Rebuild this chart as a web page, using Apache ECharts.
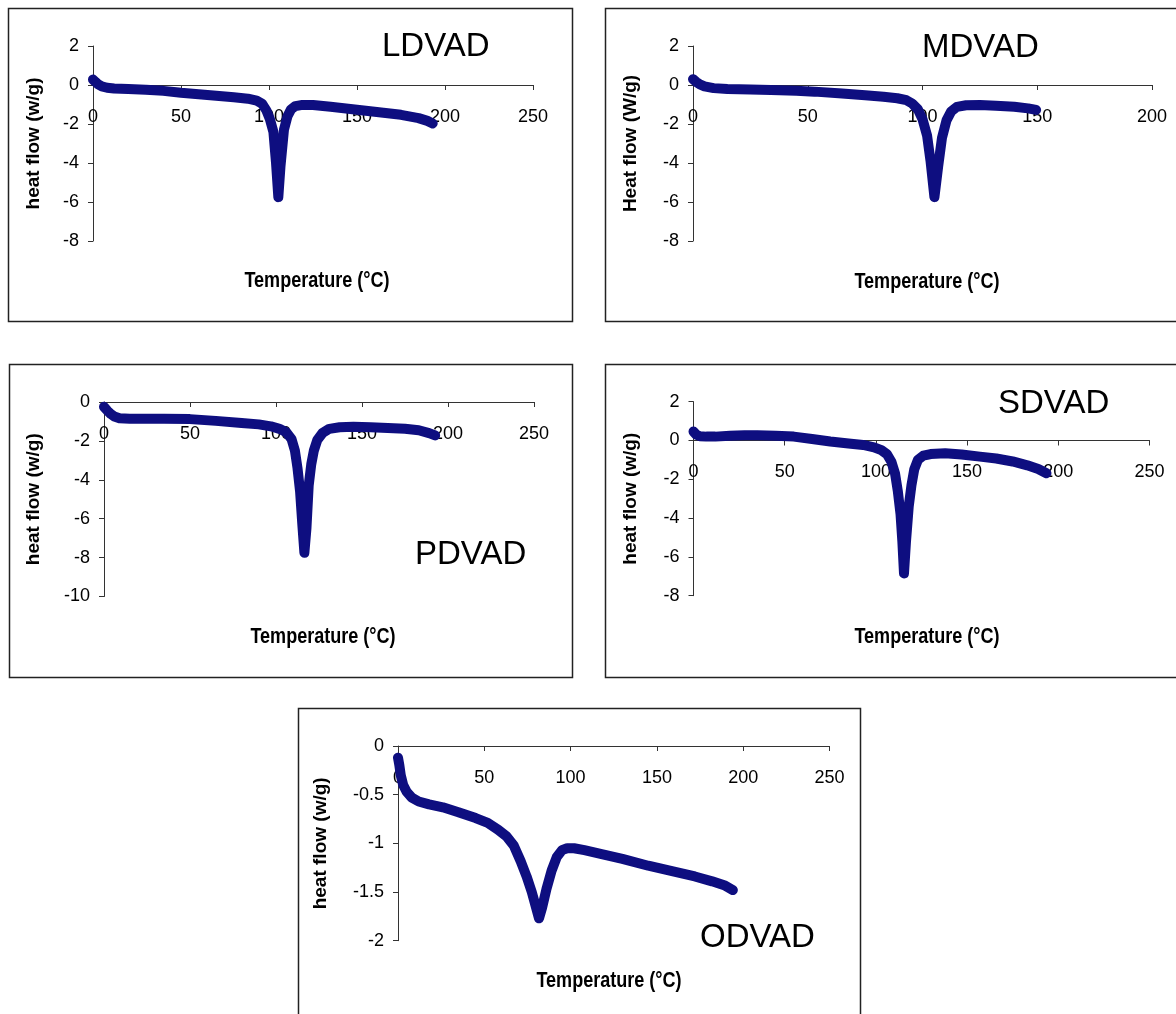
<!DOCTYPE html>
<html>
<head>
<meta charset="utf-8">
<script src="https://cdn.jsdelivr.net/npm/echarts@6/dist/echarts.min.js"></script>
<style>
html,body{margin:0;padding:0;background:#fff;}
#chart{width:1176px;height:1014px;}
</style>
</head>
<body>
<div id="chart"></div>
<script>
// ---------- DATA ----------
var ldvadTemp = [0, 1.5, 3, 5, 8, 12, 20, 30, 40, 50, 60, 70, 80, 88, 93, 96, 98.5, 100.5, 102.5, 104, 105.3, 106.5, 108.5, 110.5, 112.5, 115, 119, 125, 135, 150, 165, 175, 185, 190, 193];
var ldvadHeat = [0.28, 0.15, 0.03, -0.07, -0.14, -0.18, -0.21, -0.24, -0.3, -0.4, -0.47, -0.55, -0.63, -0.7, -0.8, -0.95, -1.3, -1.75, -2.4, -4.0, -5.75, -4.2, -2.3, -1.6, -1.25, -1.08, -1.02, -1.03, -1.12, -1.27, -1.42, -1.53, -1.7, -1.84, -1.97];

var mdvadTemp = [0, 1.5, 3, 5, 9, 15, 25, 34, 45, 53, 65, 75, 83, 89, 93, 95.5, 98, 100, 102, 103.5, 105.2, 106.8, 108.5, 110.5, 112.5, 115, 119, 125, 132, 140, 146, 149.5];
var mdvadHeat = [0.3, 0.15, 0.03, -0.07, -0.16, -0.2, -0.23, -0.26, -0.3, -0.34, -0.44, -0.52, -0.6, -0.68, -0.78, -0.95, -1.25, -1.75, -2.6, -3.9, -5.75, -4.2, -2.7, -1.8, -1.35, -1.12, -1.04, -1.03, -1.07, -1.12, -1.2, -1.28];

var pdvadTemp = [0, 2, 4, 6, 9, 15, 25, 35, 50, 65, 80, 90, 97, 102, 106, 109, 111, 112.5, 114, 115.3, 116.5, 117.7, 119, 120.5, 122, 124, 127, 131, 137, 145, 155, 165, 175, 183, 189, 192.5];
var pdvadHeat = [-0.25, -0.45, -0.62, -0.75, -0.84, -0.86, -0.86, -0.86, -0.88, -0.97, -1.08, -1.15, -1.25, -1.38, -1.55, -1.9, -2.5, -3.4, -4.6, -6.3, -7.75, -6.5, -4.3, -3.2, -2.5, -1.95, -1.6, -1.38, -1.3, -1.27, -1.3, -1.34, -1.38, -1.45, -1.6, -1.72];

var sdvadTemp = [0, 1.5, 3.5, 7, 12, 20, 28, 35, 45, 55, 65, 75, 85, 93, 99, 103, 106, 108.5, 110.5, 112, 113.5, 114.5, 115.4, 116.5, 118, 119.5, 121, 123, 126, 130, 138, 147, 157, 166, 175, 183, 189, 193.5];
var sdvadHeat = [0.46, 0.3, 0.22, 0.2, 0.2, 0.24, 0.27, 0.27, 0.24, 0.2, 0.08, -0.05, -0.15, -0.23, -0.35, -0.5, -0.7, -1.1, -1.7, -2.6, -3.8, -5.2, -6.85, -5.2, -3.4, -2.3, -1.5, -1.0, -0.78, -0.7, -0.66, -0.72, -0.83, -0.93, -1.08, -1.28, -1.47, -1.69];

var odvadTemp = [0, 0.8, 1.6, 3, 5, 8, 12, 18, 26, 35, 45, 52, 58, 63, 67, 71, 74.5, 77.5, 80, 81.7, 83.5, 86, 89, 92, 95, 98, 102, 108, 118, 130, 145, 160, 172, 182, 189, 194];
var odvadHeat = [-0.12, -0.2, -0.3, -0.4, -0.47, -0.53, -0.57, -0.6, -0.63, -0.68, -0.74, -0.79, -0.86, -0.93, -1.02, -1.18, -1.34, -1.5, -1.66, -1.77, -1.66, -1.47, -1.28, -1.14, -1.07, -1.05, -1.05, -1.07, -1.11, -1.16, -1.23, -1.29, -1.34, -1.39, -1.43, -1.48];

var panelNames = ['LDVAD', 'MDVAD', 'PDVAD', 'SDVAD', 'ODVAD'];
var yAxisNames = ['heat flow (w/g)', 'Heat flow (W/g)', 'heat flow (w/g)', 'heat flow (w/g)', 'heat flow (w/g)'];
var xAxisName = 'Temperature (\u00B0C)';
var xMax = [250, 200, 250, 250, 250];
var xStep = [50, 50, 50, 50, 50];
var yMin = [-8, -8, -10, -8, -2];
var yMax = [2, 2, 0, 2, 0];
var yStep = [2, 2, 2, 2, 0.5];

// ---------- LAYOUT ----------
var grids = [
  {left: 93, top: 46, width: 440, height: 195},
  {left: 693, top: 46, width: 459, height: 195},
  {left: 104, top: 402, width: 430, height: 194.5},
  {left: 693.5, top: 401.7, width: 456, height: 194},
  {left: 398, top: 746, width: 431.5, height: 194.7}
];
var boxes = [
  [8.5, 8.5, 564, 313],
  [605.5, 8.5, 580, 313],
  [9.5, 364.5, 563, 313],
  [605.5, 364.5, 580, 313],
  [298.5, 708.5, 562, 330]
];
var titlePos = [[382, 47], [922, 48], [415, 555], [998, 404], [700, 938]];
var xNamePos = [[317, 281], [927, 282], [323, 637], [927, 637], [609, 981]];
var yNameGap = [50, 53, 61, 53.5, 68];

var LINE = '#0e0e80';
var FONT = '"Liberation Sans", Arial, sans-serif';

function zip(a, b) { return a.map(function (v, i) { return [v, b[i]]; }); }
var seriesData = [
  zip(ldvadTemp, ldvadHeat),
  zip(mdvadTemp, mdvadHeat),
  zip(pdvadTemp, pdvadHeat),
  zip(sdvadTemp, sdvadHeat),
  zip(odvadTemp, odvadHeat)
];

var xAxes = [], yAxes = [], series = [], graphics = [];
for (var i = 0; i < 5; i++) {
  // place the x axis on the y = 0 line by offsetting it from the grid bottom
  var zeroOffset = -grids[i].height * (0 - yMin[i]) / (yMax[i] - yMin[i]);
  xAxes.push({
    type: 'value', gridIndex: i, min: 0, max: xMax[i], interval: xStep[i],
    position: 'bottom', offset: zeroOffset,
    axisLine: {show: true, onZero: false, lineStyle: {color: '#333', width: 1}},
    axisTick: {show: true, inside: false, length: 5, lineStyle: {color: '#333'}},
    axisLabel: {margin: 23, fontSize: 18, color: '#000', fontFamily: FONT},
    splitLine: {show: false}
  });
  yAxes.push({
    type: 'value', gridIndex: i, min: yMin[i], max: yMax[i], interval: yStep[i],
    axisLine: {show: true, onZero: false, lineStyle: {color: '#333', width: 1}},
    axisTick: {show: true, inside: false, length: 5, lineStyle: {color: '#333'}},
    axisLabel: {margin: 14, fontSize: 18, color: '#000', fontFamily: FONT},
    splitLine: {show: false},
    name: yAxisNames[i], nameLocation: 'middle', nameRotate: 90, nameGap: yNameGap[i],
    nameTextStyle: {fontSize: 19, fontWeight: 'bold', color: '#000', fontFamily: FONT}
  });
  series.push({
    type: 'line', xAxisIndex: i, yAxisIndex: i, data: seriesData[i],
    showSymbol: false, symbol: 'none', z: 3,
    lineStyle: {width: 10, color: LINE, cap: 'round', join: 'round'}
  });
  graphics.push({
    type: 'rect', silent: true, z: 0,
    shape: {x: boxes[i][0], y: boxes[i][1], width: boxes[i][2], height: boxes[i][3]},
    style: {fill: 'none', stroke: '#222', lineWidth: 1.5}
  });
  graphics.push({
    type: 'text', silent: true, z: 5, x: titlePos[i][0], y: titlePos[i][1],
    style: {text: panelNames[i], font: '33px "Liberation Sans", Arial, sans-serif', fill: '#000',
            textAlign: 'left', textVerticalAlign: 'middle'}
  });
  graphics.push({
    type: 'text', silent: true, z: 5, x: xNamePos[i][0], y: xNamePos[i][1],
    scaleX: 0.82, scaleY: 1,
    style: {text: xAxisName, font: 'bold 22px "Liberation Sans", Arial, sans-serif', fill: '#000',
            textAlign: 'center', textVerticalAlign: 'middle'}
  });
}

var chart = echarts.init(document.getElementById('chart'), null, {renderer: 'canvas'});
chart.setOption({
  animation: false,
  backgroundColor: '#fff',
  grid: grids,
  xAxis: xAxes,
  yAxis: yAxes,
  series: series,
  graphic: graphics
});
</script>
</body>
</html>
